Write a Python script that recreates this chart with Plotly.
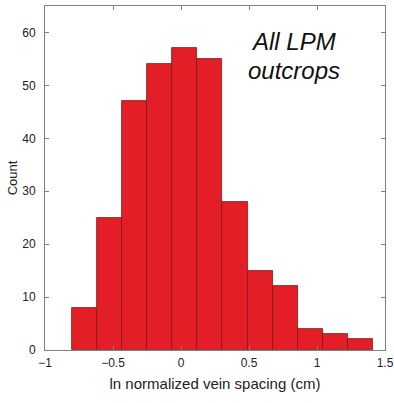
import numpy as np
import plotly.graph_objects as go

# Data
counts = [8, 25, 47, 54, 57, 55, 28, 15, 12, 4, 3, 2]
bin_lo = -0.80
bin_hi = 1.41
x_ticks = [-1, -0.5, 0, 0.5, 1, 1.5]
x_tick_text = ["\u22121", "\u22120.5", "0", "0.5", "1", "1.5"]
y_ticks = [0, 10, 20, 30, 40, 50, 60]
x_title = "ln normalized vein spacing (cm)"
y_title = "Count"
note_lines = ["All LPM", "outcrops"]

n = len(counts)
edges = np.linspace(bin_lo, bin_hi, n + 1)
centers = (edges[:-1] + edges[1:]) / 2
width = edges[1] - edges[0]

FONT = "Liberation Sans, Arial, sans-serif"

fig = go.Figure()
fig.add_trace(go.Bar(
    x=centers, y=counts, width=width,
    marker=dict(color="#E31E27", line=dict(color="#7a1a1a", width=0.8)),
    showlegend=False, hoverinfo="skip",
))

axis_common = dict(
    showline=True, linecolor="#808080", linewidth=1, mirror="ticks",
    ticks="inside", ticklen=4, tickcolor="#808080", tickwidth=1,
    showgrid=False, zeroline=False, automargin=False,
    tickfont=dict(family=FONT, size=12, color="#222"),
)

fig.update_layout(
    width=394, height=403,
    margin=dict(l=45, r=9, t=6, b=53),
    paper_bgcolor="white", plot_bgcolor="white",
    bargap=0,
    xaxis=dict(range=[-1, 1.5], tickvals=x_ticks, ticktext=x_tick_text,
               ticklabelstandoff=2,
               title=dict(text=x_title, standoff=9,
                          font=dict(family=FONT, size=15, color="#222")),
               **axis_common),
    yaxis=dict(range=[0, 65], tickvals=y_ticks, ticklabelstandoff=6,
               title=dict(text=y_title, standoff=1,
                          font=dict(family=FONT, size=13, color="#222")),
               **axis_common),
    annotations=[
        dict(x=0.83, y=(350.3 - 58) / 5.277, xref="x", yref="y",
             text="<i>" + note_lines[0] + "</i>", showarrow=False,
             xanchor="center", yanchor="bottom",
             font=dict(family=FONT, size=24, color="#111")),
        dict(x=0.83, y=(350.3 - 87) / 5.277, xref="x", yref="y",
             text="<i>" + note_lines[1] + "</i>", showarrow=False,
             xanchor="center", yanchor="bottom",
             font=dict(family=FONT, size=24, color="#111")),
    ],
)

fig.write_html("out.html", config={"displayModeBar": False},
               post_script="document.body.style.margin='0';")
